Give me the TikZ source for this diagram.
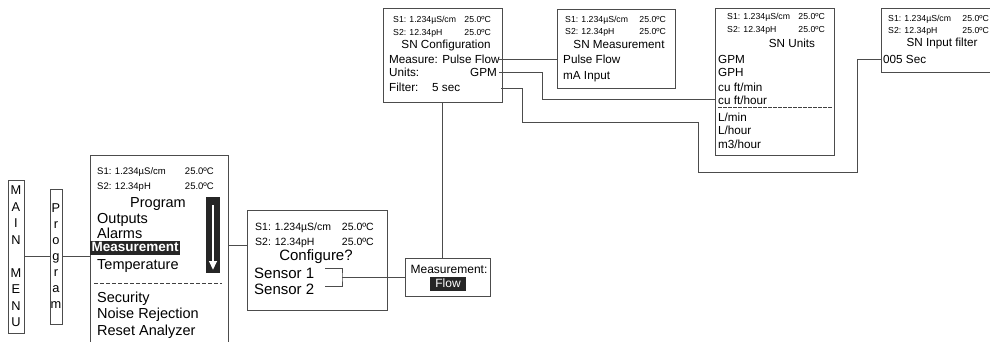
\documentclass[tikz,border=0pt]{standalone}
\usepackage{fontspec}
\setmainfont{Liberation Sans}
\usepackage{tikz}
\usetikzlibrary{arrows.meta}
\newcommand{\fsz}[1]{\fontsize{#1}{#1}\selectfont}

\begin{document}
\begin{tikzpicture}[x=1pt, y=-1pt,
    box/.style={draw=black!70, line width=0.8pt, inner sep=0pt},
    wire/.style={draw=black!70, line width=0.8pt},
    vert/.style={box, align=center, font=\fontsize{12.8}{16.5}\selectfont},
    pmsmall/.style={font=\fsz{9.5}, inner sep=0pt},
    pmbig/.style={font=\fsz{14.5}, inner sep=0pt},
    cfsmall/.style={font=\fsz{10.5}, inner sep=0pt},
    cfbig/.style={font=\fsz{15}, inner sep=0pt},
    snsmall/.style={font=\fsz{8.7}, inner sep=0pt},
    snbig/.style={font=\fsz{11.7}, inner sep=0pt},
    hilite/.style={fill=black!85, text=white, inner xsep=1.5pt, inner ysep=1pt,
        text height=9.7pt, text depth=2.7pt}]
    \useasboundingbox (0, 0) rectangle (990, 341);

    % main menu / program
    \node[vert, minimum width=16, minimum height=153] at (16, 256.5) (mainmenu)
        {M\\A\\I\\N\\[16.5pt]M\\E\\N\\U};
    \node[vert, minimum width=12, minimum height=135, font=\fontsize{12.8}{16}\selectfont]
        at (56, 256.5) (progvert) {P\\r\\o\\g\\r\\a\\m};
    \draw[wire] (mainmenu) -- (progvert);

    % program menu
    \node[box, minimum width=138, minimum height=200] at (159, 255) (progmenu) {};
    \draw[wire] (progvert.east) -- (progvert.east -| progmenu.west);
    \node[pmsmall, anchor=base west] at (97, 174.4) (pms1) {S1: 1.234µS/cm};
    \node[pmsmall, anchor=base east] at (214, 174.4) (pmt1) {25.0ºC};
    \node[pmsmall, anchor=base west] at (97, 189.4) (pms2) {S2: 12.34pH};
    \node[pmsmall, anchor=base east] at (214, 189.4) (pmt2) {25.0ºC};
    \node[pmbig, anchor=base] at (158, 207) (pmtitle) {Program};
    \node[pmbig, anchor=base west] at (97, 223) (pmout) {Outputs};
    \node[pmbig, anchor=base west] at (97, 238) (pmalarm) {Alarms};
    \node[hilite, font=\bfseries\fsz{13.5}, anchor=west] at (90, 248) (pmmeas) {Measurement};
    \node[pmbig, anchor=base west] at (97, 269) (pmtemp) {Temperature};
    \node[pmbig, anchor=base west] at (97, 302) (pmsec) {Security};
    \node[pmbig, anchor=base west] at (97, 318) (pmnoise) {Noise Rejection};
    \node[pmbig, anchor=base west] at (97, 335) (pmreset) {Reset Analyzer};
    \draw[black!75, line width=1pt, dash pattern=on 4pt off 2pt] (94, 283) -- (222, 283);
    % scroll bar
    \fill[black!85] (206, 197) rectangle (220, 273);
    \draw[white, line width=2.4pt, -{Triangle[length=9pt, width=7.5pt]}] (213, 205) -- (213, 270);

    % configure
    \node[box, minimum width=140, minimum height=100] at (317, 260) (configure) {};
    \coordinate (cfgin) at (247, 245);
    \draw[wire] (progmenu.east |- cfgin) -- (cfgin);
    \node[cfsmall, anchor=base west] at (255, 230.8) (cfs1) {S1: 1.234µS/cm};
    \node[cfsmall, anchor=base east] at (374, 230.8) (cft1) {25.0ºC};
    \node[cfsmall, anchor=base west] at (255, 245.8) (cfs2) {S2: 12.34pH};
    \node[cfsmall, anchor=base east] at (374, 245.8) (cft2) {25.0ºC};
    \node[cfbig, anchor=base] at (316, 260.4) (cftitle) {Configure?};
    \node[cfbig, anchor=base west] at (254, 278.4) (sens1) {Sensor 1};
    \node[cfbig, anchor=base west] at (254, 294.4) (sens2) {Sensor 2};
    \coordinate (brk) at (342, 277);
    \draw[wire] (325, 268) -| (brk) |- (325, 286);

    % measurement type
    \node[box, minimum width=85, minimum height=38] at (447.5, 277) (measflow) {};
    \draw[wire] (brk) -- (brk -| measflow.west);
    \node[font=\fsz{12}, inner sep=0pt, anchor=base] at (449, 273.3) (mtlabel) {Measurement:};
    \node[hilite, font=\fsz{12}, inner xsep=5.3pt, inner ysep=1.3pt, text height=9pt,
        text depth=2.5pt] at (448, 284) (mtflow) {Flow};

    % sn configuration
    \node[box, minimum width=119, minimum height=94] at (442.5, 55) (snconfig) {};
    \draw[wire] (snconfig.south) -- (snconfig.south |- measflow.north);
    \node[snsmall, anchor=base west] at (393, 22.1) (scs1) {S1: 1.234µS/cm};
    \node[snsmall, anchor=base east] at (491, 22.1) (sct1) {25.0ºC};
    \node[snsmall, anchor=base west] at (393, 35.1) (scs2) {S2: 12.34pH};
    \node[snsmall, anchor=base east] at (491, 35.1) (sct2) {25.0ºC};
    \node[snbig, anchor=base] at (446, 48.2) (sctitle) {SN Configuration};
    \node[snbig, anchor=base west] at (389, 63.2) (scmeas) {Measure: Pulse Flow};
    \node[snbig, anchor=base west] at (389, 76.2) (scunits) {Units:};
    \node[snbig, anchor=base east] at (497, 76.2) (scgpm) {GPM};
    \node[snbig, anchor=base west] at (389, 91.2) (scfilter) {Filter:};
    \node[snbig, anchor=base west] at (432, 91.2) (scsec) {5 sec};

    % sn measurement
    \node[box, minimum width=118, minimum height=79] at (616, 48.5) (snmeas) {};
    \node[snsmall, anchor=base west] at (565, 22.1) (sms1) {S1: 1.234µS/cm};
    \node[snsmall, anchor=base east] at (666, 22.1) (smt1) {25.0ºC};
    \node[snsmall, anchor=base west] at (565, 34.1) (sms2) {S2: 12.34pH};
    \node[snsmall, anchor=base east] at (666, 34.1) (smt2) {25.0ºC};
    \node[snbig, anchor=base] at (619, 48.2) (smtitle) {SN Measurement};
    \node[snbig, anchor=base west] at (563, 63.2) (smpulse) {Pulse Flow};
    \node[snbig, anchor=base west] at (563, 79.2) (smma) {mA Input};

    % sn units
    \node[box, minimum width=119, minimum height=147] at (774.5, 81.5) (snunits) {};
    \node[snsmall, anchor=base west] at (727, 19.1) (sus1) {S1: 1.234µS/cm};
    \node[snsmall, anchor=base east] at (825, 19.1) (sut1) {25.0ºC};
    \node[snsmall, anchor=base west] at (727, 32.1) (sus2) {S2: 12.34pH};
    \node[snsmall, anchor=base east] at (825, 32.1) (sut2) {25.0ºC};
    \node[snbig, anchor=base] at (792, 47.2) (sutitle) {SN Units};
    \node[snbig, anchor=base west] at (718, 63.2) (sugpm) {GPM};
    \node[snbig, anchor=base west] at (718, 76.2) (sugph) {GPH};
    \node[snbig, anchor=base west] at (718, 91.2) (sucfm) {cu ft/min};
    \node[snbig, anchor=base west] at (718, 104.2) (sucfh) {cu ft/hour};
    \draw[black!75, line width=0.9pt, dash pattern=on 3.5pt off 1.5pt] (718, 107) -- (832, 107);
    \node[snbig, anchor=base west] at (718, 121.2) (sulmin) {L/min};
    \node[snbig, anchor=base west] at (718, 134.2) (sulhr) {L/hour};
    \node[snbig, anchor=base west] at (718, 148.2) (sum3) {m3/hour};

    % sn input filter
    \node[box, minimum width=120, minimum height=64] at (941, 40) (sninput) {};
    \node[snsmall, anchor=base west] at (888, 21.1) (sis1) {S1: 1.234µS/cm};
    \node[snsmall, anchor=base east] at (989, 21.1) (sit1) {25.0ºC};
    \node[snsmall, anchor=base west] at (888, 33.1) (sis2) {S2: 12.34pH};
    \node[snsmall, anchor=base east] at (989, 33.1) (sit2) {25.0ºC};
    \node[snbig, anchor=base] at (942, 46.2) (sititle) {SN Input filter};
    \node[snbig, anchor=base west] at (883, 63.2) (sisec) {005 Sec};

    % links from sn configuration
    \coordinate (rowpf) at (499, 59);
    \draw[wire] (rowpf) -- (rowpf -| snmeas.west);
    \coordinate (rowgpm) at (499, 72);
    \coordinate (bendu) at (542, 99);
    \draw[wire] (rowgpm) -| (bendu) -- (bendu -| snunits.west);
    \coordinate (rowflt) at (501, 88);
    \coordinate (bf1) at (522, 122);
    \coordinate (bf2) at (698, 172);
    \coordinate (bf3) at (857, 59);
    \draw[wire] (rowflt) -| (bf1) -| (bf2) -| (bf3) -- (bf3 -| sninput.west);

\end{tikzpicture}
\end{document}
